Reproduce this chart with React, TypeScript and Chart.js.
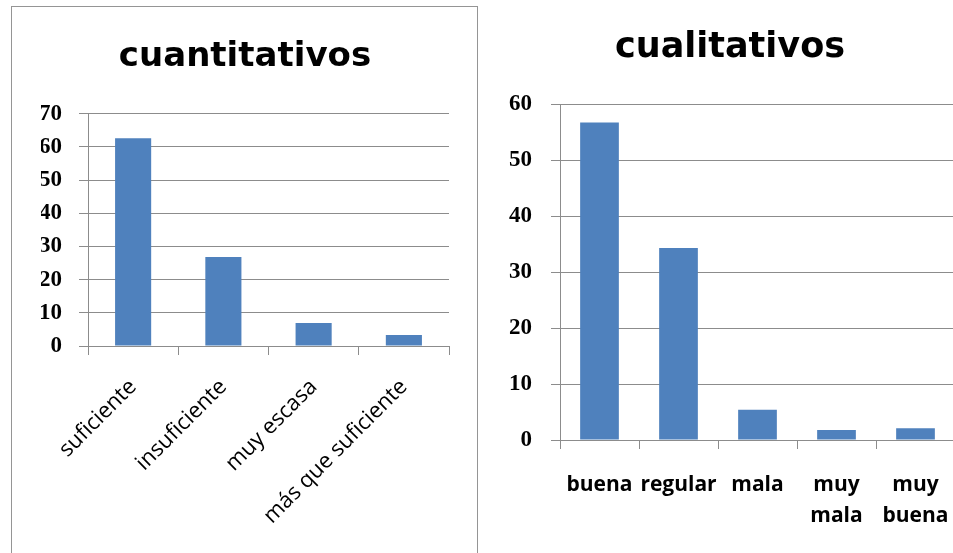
import React, { useEffect, useRef } from "react";
import { Chart, registerables } from "chart.js";

Chart.register(...registerables);

// ---- data ----
const quantTitle = "cuantitativos";
const quantCategories = ["suficiente", "insuficiente", "muy escasa", "más que suficiente"];
const quantValues = [62.6, 26.8, 6.9, 3.3];
const quantMax = 70;

const qualTitle = "cualitativos";
const qualCategories: (string | string[])[] = ["buena", "regular", "mala", ["muy", "mala"], ["muy", "buena"]];
const qualValues = [56.7, 34.3, 5.4, 1.8, 2.1];
const qualMax = 60;

const tickStep = 10;

const BAR = "#4F81BD";
const GRID = "#8c8c8c";

type Props = {
  width: number;
  height: number;
  title: string;
  categories: (string | string[])[];
  values: number[];
  max: number;
  titleSize: number;
  titlePadTop: number;
  titlePadBottom: number;
  yWidth: number;
  yPad: number;
  leftPad: number;
  rightPad: number;
  xHeight: number;
  xFont: any;
  xPad: number;
  rotation: number;
  barPct: number;
};

function BarChart(p: Props) {
  const ref = useRef<HTMLCanvasElement | null>(null);
  useEffect(() => {
    if (!ref.current) return;
    const chart = new Chart(ref.current, {
      type: "bar",
      data: {
        labels: p.categories,
        datasets: [
          {
            data: p.values,
            backgroundColor: BAR,
            borderWidth: 0,
            barPercentage: p.barPct,
            categoryPercentage: 1,
          },
        ],
      },
      options: {
        responsive: false,
        animation: false,
        devicePixelRatio: 1,
        layout: { padding: { left: p.leftPad, right: p.rightPad, top: 0, bottom: 0 } },
        plugins: {
          legend: { display: false },
          tooltip: { enabled: false },
          title: {
            display: true,
            text: p.title,
            color: "#000",
            font: { family: "DejaVu Sans", weight: "bold", size: p.titleSize, lineHeight: 1.2 },
            padding: { top: p.titlePadTop, bottom: p.titlePadBottom },
          },
        },
        scales: {
          x: {
            offset: true,
            grid: {
              offset: true,
              drawOnChartArea: false,
              drawTicks: true,
              tickLength: 9,
              color: GRID,
              lineWidth: 1,
            },
            border: { display: true, color: GRID, width: 1 },
            ticks: {
              color: "#000",
              font: p.xFont,
              padding: p.xPad,
              autoSkip: false,
              minRotation: p.rotation,
              maxRotation: p.rotation,
            },
            afterFit: (s: any) => {
              s.height = p.xHeight;
            },
          },
          y: {
            min: 0,
            max: p.max,
            ticks: {
              stepSize: tickStep,
              color: "#000",
              font: { family: "Liberation Serif", weight: "bold", size: 23 },
              padding: p.yPad,
            },
            grid: {
              color: GRID,
              lineWidth: 1,
              drawTicks: true,
              tickLength: 9,
            },
            border: { display: true, color: GRID, width: 1 },
            afterFit: (s: any) => {
              s.width = p.yWidth;
            },
          },
        },
      },
    });
    return () => chart.destroy();
  }, []);
  return (
    <canvas
      ref={ref}
      width={p.width}
      height={p.height}
      style={{ display: "block", width: p.width, height: p.height }}
    />
  );
}

export default function App() {
  return (
    <div
      style={{
        position: "fixed",
        left: 0,
        top: 0,
        width: 953,
        height: 553,
        overflow: "hidden",
        background: "#fff",
      }}
    >
      <div
        style={{
          position: "absolute",
          left: 11,
          top: 6,
          width: 467,
          height: 600,
          border: "1.5px solid #959595",
          boxSizing: "border-box",
        }}
      />
      <div style={{ position: "absolute", left: 12, top: 7 }}>
        <BarChart
          width={464}
          height={546}
          title={quantTitle}
          categories={quantCategories}
          values={quantValues}
          max={quantMax}
          titleSize={34}
          titlePadTop={30}
          titlePadBottom={36}
          yWidth={47}
          yPad={17}
          leftPad={29}
          rightPad={27}
          xHeight={207}
          xFont={{ family: "Open Sans", size: 22, lineHeight: 1.2 }}
          xPad={19}
          rotation={45}
          barPct={0.4}
        />
      </div>
      <div style={{ position: "absolute", left: 480, top: 0 }}>
        <BarChart
          width={500}
          height={553}
          title={qualTitle}
          categories={qualCategories}
          values={qualValues}
          max={qualMax}
          titleSize={35}
          titlePadTop={27}
          titlePadBottom={35}
          yWidth={55}
          yPad={19}
          leftPad={25}
          rightPad={25}
          xHeight={113}
          xFont={{ family: "Open Sans", weight: "bold", size: 21, lineHeight: 1.5 }}
          xPad={20}
          rotation={0}
          barPct={0.49}
        />
      </div>
    </div>
  );
}
